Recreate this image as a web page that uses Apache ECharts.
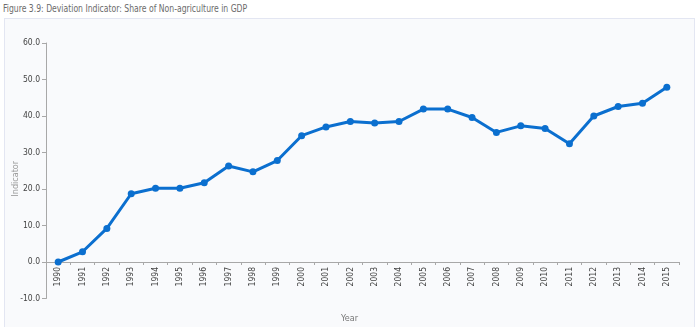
<!DOCTYPE html>
<html><head><meta charset="utf-8">
<script src="https://cdn.jsdelivr.net/npm/echarts@6/dist/echarts.min.js"></script>
<style>
html,body{margin:0;padding:0;background:#fff;}
#title{position:absolute;left:3px;top:2px;font-family:"DejaVu Sans Condensed",sans-serif;font-size:10.5px;color:#6b6b6b;transform:scaleX(0.815);transform-origin:left top;white-space:nowrap;}
#frame{position:absolute;left:4px;top:18px;width:689px;height:308px;border:1px solid #e3e6f2;border-bottom:none;background:#f9fafc;}
#c{position:absolute;left:0;top:0;width:700px;height:329px;}
</style></head><body>
<div id="title">Figure 3.9: Deviation Indicator: Share of Non-agriculture in GDP</div>
<div id="frame"></div>
<div id="c"></div>
<script>
var years = ['1990','1991','1992','1993','1994','1995','1996','1997','1998','1999','2000','2001','2002','2003','2004','2005','2006','2007','2008','2009','2010','2011','2012','2013','2014','2015'];
var indicator = [0.0,2.8,9.2,18.7,20.2,20.2,21.7,26.3,24.7,27.8,34.6,37.0,38.5,38.1,38.5,41.9,41.9,39.6,35.5,37.3,36.6,32.4,40.0,42.6,43.5,47.9];
var chart = echarts.init(document.getElementById('c'), null, {renderer:'canvas'});
var font = '"DejaVu Sans Condensed",sans-serif';
var H = 329, gridBottom = 30.5;
chart.setOption({
  animation:false,
  backgroundColor:'transparent',
  grid:{left:46,top:43,right:21,bottom:gridBottom,containLabel:false,outerBoundsMode:'none'},
  xAxis:{type:'category',data:years,boundaryGap:true,
    name:'Year',nameLocation:'middle',nameGap:52,nameMoveOverlap:false,
    nameTextStyle:{color:'#777',fontSize:9,fontFamily:font,padding:[0,26,0,0]},
    axisLine:{onZero:false,lineStyle:{color:'#a8a8a8'}},
    axisTick:{show:true,length:3,lineStyle:{color:'#a8a8a8'}},
    axisLabel:{rotate:90,fontSize:8.5,color:'#444',fontFamily:font,margin:5}
  },
  yAxis:{type:'value',min:-10,max:60,interval:10,
    name:'Indicator',nameLocation:'middle',nameGap:26,nameMoveOverlap:false,
    nameTextStyle:{color:'#999',fontSize:9,fontFamily:font,padding:[0,16,0,0]},
    axisLine:{show:true,lineStyle:{color:'#a8a8a8'}},
    axisTick:{show:true,length:4,lineStyle:{color:'#a8a8a8'}},
    splitLine:{show:false},
    axisLabel:{fontSize:8.5,color:'#444',fontFamily:font,margin:6,formatter:function(v){return v.toFixed(1);}}
  },
  series:[{type:'line',data:indicator,symbol:'circle',symbolSize:7,
    lineStyle:{color:'#0b6fcf',width:3},itemStyle:{color:'#0b6fcf'}}]
});
// place the category axis at value 0 using the library's own value scale
var zeroY = chart.convertToPixel({yAxisIndex:0}, 0);
var off = zeroY - (H - gridBottom);
chart.setOption({xAxis:{offset:off}});
</script></body></html>
